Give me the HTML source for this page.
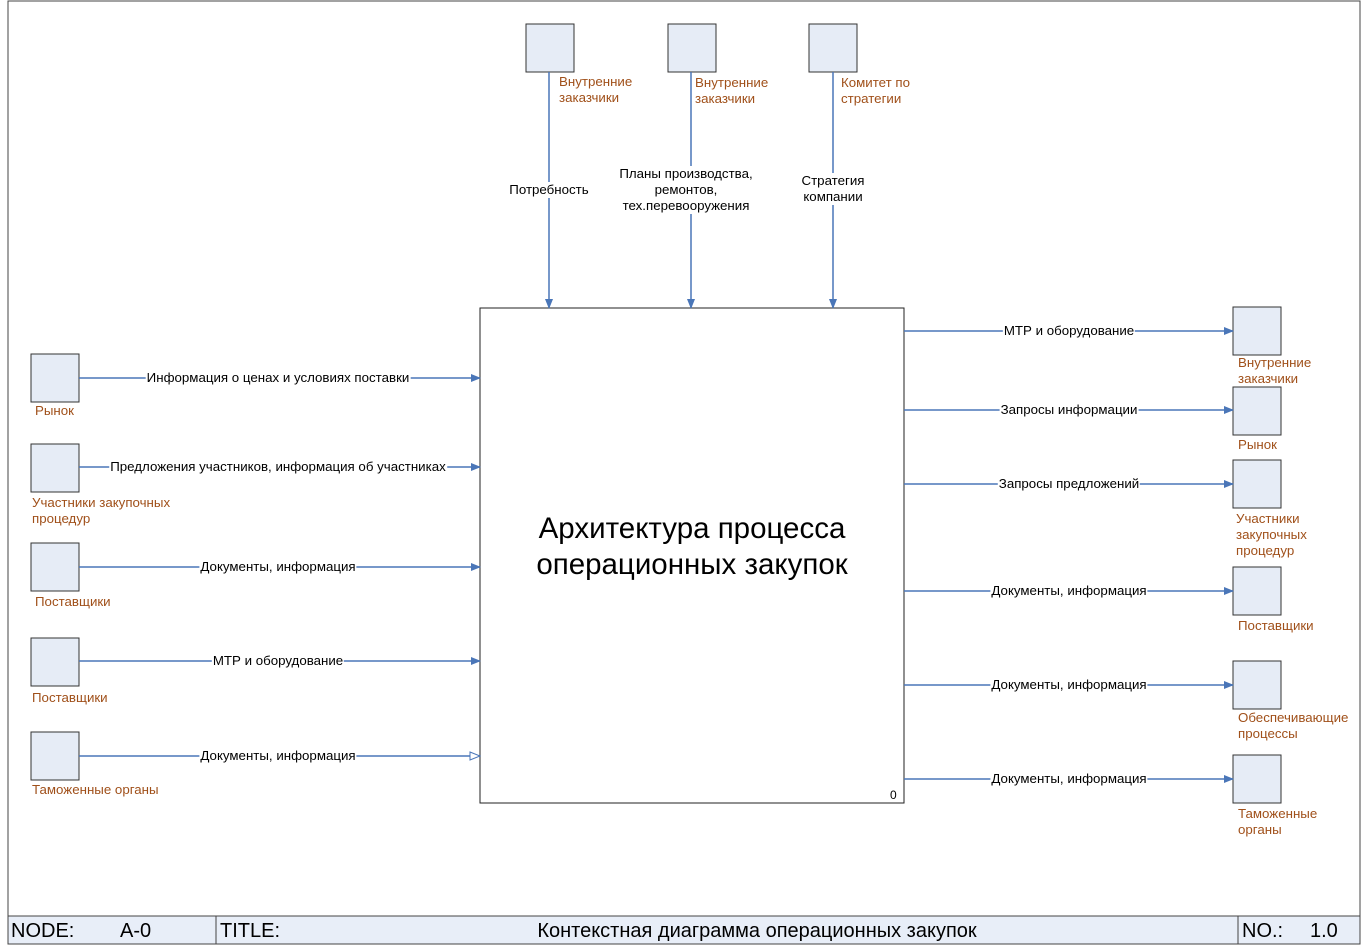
<!DOCTYPE html>
<html><head><meta charset="utf-8"><style>
body{margin:0;background:#fff;position:relative;width:1363px;height:951px;overflow:hidden}
svg text{font-family:"Liberation Sans",sans-serif}
.l{position:absolute;font:13.3px/16px "Liberation Sans",sans-serif;background:#fff;transform:translateX(-50%);white-space:nowrap;color:#000;text-align:center;padding:0 1px}
</style></head><body>
<svg width="1363" height="951" viewBox="0 0 1363 951" xmlns="http://www.w3.org/2000/svg" style="position:absolute;left:0;top:0">
<defs>
<marker id="a" markerWidth="10" markerHeight="8" refX="9" refY="4" orient="auto" markerUnits="userSpaceOnUse"><path d="M0,0 L10,4 L0,8 z" fill="#4a76b8"/></marker>
<marker id="h" markerWidth="12" markerHeight="10" refX="11" refY="5" orient="auto" markerUnits="userSpaceOnUse"><path d="M1,1 L11,5 L1,9 z" fill="#fff" stroke="#4a76b8"/></marker>
</defs>
<rect x="8" y="1" width="1352" height="943" fill="none" stroke="#444"/>
<rect x="8" y="916" width="1352" height="28" fill="#e8eef8" stroke="#444"/>
<line x1="216" y1="916" x2="216" y2="944" stroke="#444"/>
<line x1="1238" y1="916" x2="1238" y2="944" stroke="#444"/>
<g font-size="20" fill="#000">
<text x="11" y="937">NODE:</text><text x="120" y="937">A-0</text>
<text x="220" y="937">TITLE:</text>
<text x="757" y="937" text-anchor="middle">Контекстная диаграмма операционных закупок</text>
<text x="1242" y="937">NO.:</text><text x="1310" y="937">1.0</text>
</g>
<rect x="480" y="308" width="424" height="495" fill="#fff" stroke="#222"/>
<text x="692" y="538" font-size="29.5" text-anchor="middle">Архитектура процесса</text>
<text x="692" y="574" font-size="29.5" text-anchor="middle">операционных закупок</text>
<text x="890" y="799" font-size="12">0</text>
<g fill="#e6ecf6" stroke="#333">
<rect x="31" y="354" width="48" height="48"/><rect x="31" y="444" width="48" height="48"/><rect x="31" y="543" width="48" height="48"/><rect x="31" y="638" width="48" height="48"/><rect x="31" y="732" width="48" height="48"/>
<rect x="526" y="24" width="48" height="48"/><rect x="668" y="24" width="48" height="48"/><rect x="809" y="24" width="48" height="48"/>
<rect x="1233" y="307" width="48" height="48"/><rect x="1233" y="387" width="48" height="48"/><rect x="1233" y="460" width="48" height="48"/><rect x="1233" y="567" width="48" height="48"/><rect x="1233" y="661" width="48" height="48"/><rect x="1233" y="755" width="48" height="48"/>
</g>
<g stroke="#4a76b8" stroke-width="1.5" marker-end="url(#a)">
<line x1="79" y1="378" x2="480" y2="378"/><line x1="79" y1="467" x2="480" y2="467"/><line x1="79" y1="567" x2="480" y2="567"/><line x1="79" y1="661" x2="480" y2="661"/>
<line x1="79" y1="756" x2="480" y2="756" marker-end="url(#h)"/>
<line x1="549" y1="72" x2="549" y2="308"/><line x1="691" y1="72" x2="691" y2="308"/><line x1="833" y1="72" x2="833" y2="308"/>
<line x1="904" y1="331" x2="1233" y2="331"/><line x1="904" y1="410" x2="1233" y2="410"/><line x1="904" y1="484" x2="1233" y2="484"/><line x1="904" y1="591" x2="1233" y2="591"/><line x1="904" y1="685" x2="1233" y2="685"/><line x1="904" y1="779" x2="1233" y2="779"/>
</g>
<g font-size="13.3" fill="#a0501a">
<text x="35" y="415">Рынок</text>
<text x="32" y="507">Участники закупочных</text><text x="32" y="523">процедур</text>
<text x="35" y="606">Поставщики</text>
<text x="32" y="702">Поставщики</text>
<text x="32" y="794">Таможенные органы</text>
<text x="559" y="86">Внутренние</text><text x="559" y="102">заказчики</text>
<text x="695" y="87">Внутренние</text><text x="695" y="103">заказчики</text>
<text x="841" y="87">Комитет по</text><text x="841" y="103">стратегии</text>
<text x="1238" y="367">Внутренние</text><text x="1238" y="383">заказчики</text>
<text x="1238" y="449">Рынок</text>
<text x="1236" y="523">Участники</text><text x="1236" y="539">закупочных</text><text x="1236" y="555">процедур</text>
<text x="1238" y="630">Поставщики</text>
<text x="1238" y="722">Обеспечивающие</text><text x="1238" y="738">процессы</text>
<text x="1238" y="818">Таможенные</text><text x="1238" y="834">органы</text>
</g>
</svg>
<div class="l" style="left:278px;top:370px">Информация о ценах и условиях поставки</div>
<div class="l" style="left:278px;top:459px">Предложения участников, информация об участниках</div>
<div class="l" style="left:278px;top:559px">Документы, информация</div>
<div class="l" style="left:278px;top:653px">МТР и оборудование</div>
<div class="l" style="left:278px;top:748px">Документы, информация</div>
<div class="l" style="left:1069px;top:323px">МТР и оборудование</div>
<div class="l" style="left:1069px;top:402px">Запросы информации</div>
<div class="l" style="left:1069px;top:476px">Запросы предложений</div>
<div class="l" style="left:1069px;top:583px">Документы, информация</div>
<div class="l" style="left:1069px;top:677px">Документы, информация</div>
<div class="l" style="left:1069px;top:771px">Документы, информация</div>
<div class="l" style="left:549px;top:182px">Потребность</div>
<div class="l" style="left:686px;top:166px">Планы производства,<br>ремонтов,<br>тех.перевооружения</div>
<div class="l" style="left:833px;top:173px">Стратегия<br>компании</div>
</body></html>
